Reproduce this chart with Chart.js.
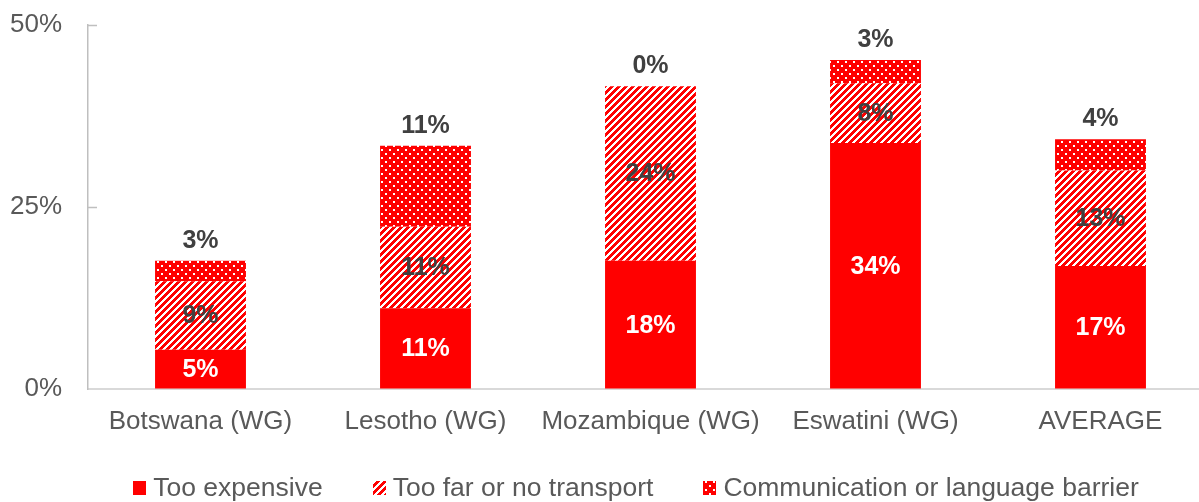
<!DOCTYPE html>
<html>
<head>
<meta charset="utf-8">
<script src="https://cdn.jsdelivr.net/npm/chart.js@4.4.1/dist/chart.umd.min.js"></script>
<style>
  html, body { margin: 0; padding: 0; background: #fff; overflow: hidden; }
  #wrap { width: 1199px; height: 502px; overflow: hidden; }
  canvas { display: block; }
</style>
</head>
<body>
<div id="wrap"><canvas id="grafico" width="1213" height="502"></canvas></div>
<script>
// Barreiras de acesso, % por país (barras empilhadas)
const categorias = ['Botswana (WG)', 'Lesotho (WG)', 'Mozambique (WG)', 'Eswatini (WG)', 'AVERAGE'];
const nomesSeries = ['Too expensive', 'Too far or no transport', 'Communication or language barrier'];
const tooExpensive = [5.4, 11.1, 17.6, 33.8, 16.9];
const tooFar = [9.4, 11.2, 24.0, 8.2, 13.1];
const communication = [2.8, 11.1, 0, 3.2, 4.3];
const yTicks = [0, 25, 50];

const VERMELHO = '#ff0000';
const FONTE = '"Liberation Sans", Arial, sans-serif';

// Padrões de preenchimento (listras diagonais e pontilhado)
function padraoListras() {
  const n = 7;
  const c = document.createElement('canvas');
  c.width = n; c.height = n;
  const g = c.getContext('2d');
  g.fillStyle = VERMELHO;
  g.fillRect(0, 0, n, n);
  g.fillStyle = '#ffffff';
  for (let y = 0; y < n; y++) {
    for (let x = 0; x < n; x++) {
      if ((x + y) % n < 3) g.fillRect(x, y, 1, 1);
    }
  }
  return g.createPattern(c, 'repeat');
}

function padraoPontos() {
  const c = document.createElement('canvas');
  c.width = 8; c.height = 8;
  const g = c.getContext('2d');
  g.fillStyle = VERMELHO;
  g.fillRect(0, 0, 8, 8);
  g.fillStyle = '#ffffff';
  g.fillRect(1, 1, 2, 2);
  g.fillRect(5, 5, 2, 2);
  return g.createPattern(c, 'repeat');
}

// Rótulos de valor: dentro do segmento, ou acima da barra pra última série
const rotulosPlugin = {
  id: 'rotulos',
  afterDatasetsDraw(chart) {
    const ctx = chart.ctx;
    ctx.save();
    ctx.font = 'bold 25px ' + FONTE;
    ctx.textAlign = 'center';
    ctx.textBaseline = 'middle';
    chart.data.datasets.forEach((ds, i) => {
      const meta = chart.getDatasetMeta(i);
      meta.data.forEach((bar, j) => {
        const { x, y, base } = bar.getProps(['x', 'y', 'base'], true);
        const texto = Math.round(ds.data[j]) + '%';
        if (i === 2) {
          ctx.fillStyle = '#404040';
          ctx.fillText(texto, x, y - 20);
        } else {
          ctx.fillStyle = i === 0 ? '#ffffff' : '#404040';
          ctx.fillText(texto, x, (y + base) / 2 + 1);
        }
      });
    });
    ctx.restore();
  }
};

// Marcas do eixo Y viradas pra dentro da área do gráfico
const marcasPlugin = {
  id: 'marcasY',
  afterDraw(chart) {
    const ctx = chart.ctx;
    const esc = chart.scales.y;
    const x0 = chart.chartArea.left;
    ctx.save();
    ctx.strokeStyle = '#bfbfbf';
    ctx.lineWidth = 1.5;
    yTicks.slice(1).forEach(v => {
      const py = Math.round(esc.getPixelForValue(v)) + 0.5;
      ctx.beginPath();
      ctx.moveTo(x0, py);
      ctx.lineTo(x0 + 9, py);
      ctx.stroke();
    });
    ctx.restore();
  }
};

// Legenda desenhada na faixa de baixo
const legendaPlugin = {
  id: 'legendaBaixo',
  afterDraw(chart) {
    const ctx = chart.ctx;
    const yMeio = 488;
    const caixa = 13, gapTexto = 7, gapItem = 50;
    ctx.save();
    ctx.font = '26.5px ' + FONTE;
    ctx.textBaseline = 'middle';
    const itens = chart.data.datasets.map(ds => ({
      texto: ds.label,
      cor: ds.backgroundColor,
      w: caixa + gapTexto + ctx.measureText(ds.label).width
    }));
    const total = itens.reduce((s, it) => s + it.w, 0) + gapItem * (itens.length - 1);
    let x = 636 - total / 2;
    itens.forEach(it => {
      ctx.fillStyle = it.cor;
      ctx.fillRect(Math.round(x), yMeio - 7, caixa, caixa + 1);
      ctx.fillStyle = '#595959';
      ctx.fillText(it.texto, x + caixa + gapTexto, yMeio + 1);
      x += it.w + gapItem;
    });
    ctx.restore();
  }
};

new Chart(document.getElementById('grafico'), {
  type: 'bar',
  data: {
    labels: categorias,
    datasets: [
      { label: nomesSeries[0], data: tooExpensive, backgroundColor: VERMELHO },
      { label: nomesSeries[1], data: tooFar, backgroundColor: padraoListras() },
      { label: nomesSeries[2], data: communication, backgroundColor: padraoPontos() }
    ]
  },
  options: {
    responsive: false,
    animation: false,
    datasets: {
      bar: { categoryPercentage: 1, barPercentage: 0.404, borderWidth: 0 }
    },
    layout: { padding: { left: 10, top: 25, right: 0, bottom: 65 } },
    plugins: {
      legend: { display: false },
      tooltip: { enabled: false }
    },
    scales: {
      x: {
        stacked: true,
        grid: { display: true, drawOnChartArea: false, drawTicks: false },
        border: { color: '#d9d9d9', width: 2 },
        afterFit: axis => { axis.height = 48; axis.paddingLeft = 0; axis.paddingRight = 0; },
        ticks: {
          color: '#595959',
          font: { size: 26, family: FONTE },
          padding: 17,
          maxRotation: 0,
          autoSkip: false
        }
      },
      y: {
        stacked: true,
        min: 0,
        max: 50,
        grid: { display: true, drawOnChartArea: false, drawTicks: false },
        border: { color: '#bfbfbf', width: 1.5 },
        afterBuildTicks: axis => { axis.ticks = yTicks.map(v => ({ value: v })); },
        afterFit: axis => { axis.width = 78; axis.paddingTop = 0; axis.paddingBottom = 0; },
        ticks: {
          color: '#595959',
          font: { size: 26, family: FONTE },
          padding: 26,
          callback: v => v + '%'
        }
      }
    }
  },
  plugins: [rotulosPlugin, marcasPlugin, legendaPlugin]
});
</script>
</body>
</html>
